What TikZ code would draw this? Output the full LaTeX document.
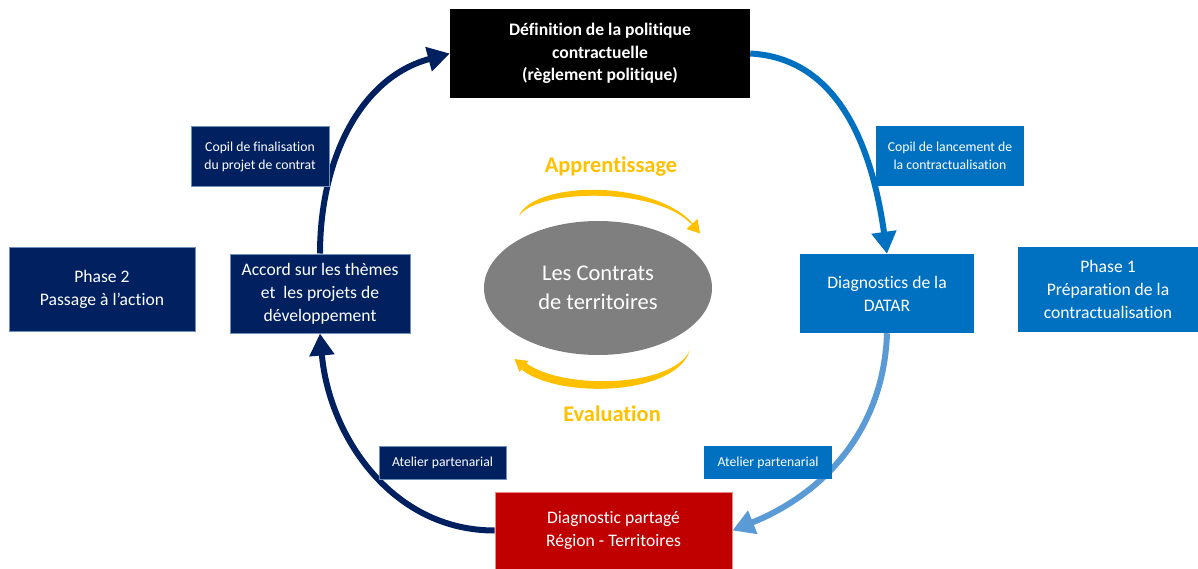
\documentclass[tikz,border=0pt]{standalone}
\usepackage{fontspec}
\setmainfont[Ligatures=NoCommon]{Carlito}
\usetikzlibrary{arrows.meta,shapes.geometric}
\definecolor{navy}{HTML}{002060}
\definecolor{bleu}{HTML}{0070C0}
\definecolor{bleuclair}{HTML}{5B9BD5}
\definecolor{rouge}{HTML}{C00000}
\definecolor{gris}{HTML}{7F7F7F}
\definecolor{orange}{HTML}{FFC000}
\definecolor{bord}{HTML}{7090B8}
\definecolor{bordrouge}{HTML}{E68C8C}
\tikzset{
  box/.style={rectangle, text=white, align=center, inner sep=2pt,
    font=\fontsize{17.6}{23}\selectfont},
  navybox/.style={box, fill=navy, draw=bord, line width=1pt},
  bluebox/.style={box, fill=bleu},
  smallbox/.style={font=\fontsize{13.7}{18}\selectfont},
  bigarrow/.style={line width=6pt, -{Triangle[width=24pt,length=22pt]}},
  orshape/.style={fill=orange, draw=none},
  lbl/.style={text=orange, font=\fontsize{22.4}{26}\selectfont\bfseries}
}
\begin{document}
\begin{tikzpicture}[x=1pt,y=1pt]
\useasboundingbox (0,0) rectangle (1198,-569);

% nodes
\node[box, fill=black, font=\fontsize{17.6}{22.5}\selectfont\bfseries,
  minimum width=300pt, minimum height=89pt] (top) at (600,-53.5)
  {Définition de la politique\\contractuelle\\(règlement politique)};
\node[bluebox, minimum width=174pt, minimum height=79pt] (datar) at (887,-293.5)
  {Diagnostics de la\\DATAR};
\node[box, fill=rouge, draw=bordrouge, line width=0.8pt,
  minimum width=237pt, minimum height=77pt] (diag) at (613.5,-530.5)
  {Diagnostic partagé\\Région - Territoires};
\node[navybox, minimum width=180pt, minimum height=79pt] (accord) at (320,-293.5)
  {Accord sur les thèmes\\et\ \ les projets de\\développement};

% big arrows
\draw[bigarrow, navy] (accord.north) to[out=90,in=195] (top.west);
\draw[bigarrow, bleu] (top.east) to[out=-3,in=98] (datar.north);
\draw[bigarrow, bleuclair] (datar.south) to[out=-92,in=22] (diag.east);
\draw[bigarrow, navy] (diag.west) to[out=180,in=-85] (accord.south);

% small boxes
\node[navybox, smallbox, minimum width=138pt, minimum height=60pt] (copilf) at (260,-157)
  {Copil de finalisation\\du projet de contrat};
\node[bluebox, smallbox, minimum width=148pt, minimum height=60pt] (copill) at (950,-156)
  {Copil de lancement de\\la contractualisation};
\node[navybox, smallbox, minimum width=127pt, minimum height=33pt] (atl) at (442.5,-462.5)
  {Atelier partenarial};
\node[bluebox, smallbox, minimum width=128pt, minimum height=33pt] (atr) at (768,-462.5)
  {Atelier partenarial};

% phase boxes
\node[navybox, minimum width=186pt, minimum height=84pt] (ph2) at (102,-289)
  {Phase 2\\Passage à l’action};
\node[bluebox, minimum width=180pt, minimum height=85pt] (ph1) at (1108,-289.5)
  {Phase 1\\Préparation de la\\contractualisation};

% centre
\node[ellipse, fill=gris, text=white, align=center, minimum width=228pt,
  minimum height=134pt, inner sep=0pt, font=\fontsize{22.5}{29}\selectfont] (centre) at (598,-288)
  {Les Contrats\\de territoires};
\node[lbl] (appr) at (611,-167) {Apprentissage};
\node[lbl] (eval) at (612,-414) {Evaluation};

% tapered orange arrows
\fill[orshape] (519,-216) .. controls (533,-181) and (656,-178) .. (695,-226)
  -- (689,-222) .. controls (653,-187) and (537,-189) .. (519,-216) -- cycle;
\fill[orshape] (686.5,-229) -- (697.5,-219) -- (700,-233.5) -- cycle;
\fill[orshape] (690,-350) .. controls (676,-396) and (560,-399) .. (522,-370)
  -- (526,-363) .. controls (562,-390) and (673,-388) .. (690,-350) -- cycle;
\fill[orshape] (528.5,-361) -- (519.5,-372) -- (514.5,-359) -- cycle;
\end{tikzpicture}
\end{document}
